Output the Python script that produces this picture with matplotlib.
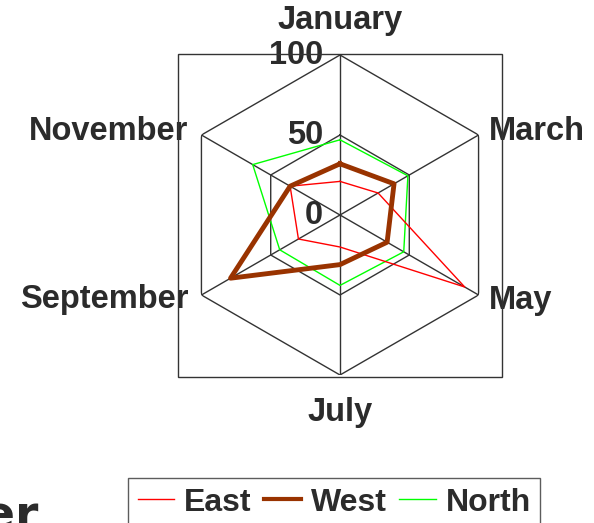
import numpy as np
import matplotlib
matplotlib.use("Agg")
import matplotlib.pyplot as plt
from matplotlib.patches import Rectangle

months = ["January", "March", "May", "July", "September", "November"]
east = [21, 27.5, 90, 20, 30, 36]
west = [32, 39, 34, 31, 79, 36]
north = [47, 49, 46, 44, 43.5, 63]
grid_levels = [0, 50, 100]
series_names = ["East", "West", "North"]

W, H = 594, 523
DPI = 100
plt.rcParams['font.family'] = ['Liberation Sans', 'DejaVu Sans']
fig = plt.figure(figsize=(W / DPI, H / DPI), dpi=DPI)
fig.patch.set_facecolor('white')

cx, cy, R = 340, 215, 160
ax = fig.add_axes([(cx - R) / W, (H - cy - R) / H, 2 * R / W, 2 * R / H], projection='polar')
ax.set_theta_zero_location('N')
ax.set_theta_direction(-1)
ax.set_ylim(0, 100)
ax.grid(False)
ax.set_xticks([])
ax.set_yticks([])
ax.spines['polar'].set_visible(False)
ax.patch.set_visible(False)

n = len(months)
theta = np.arange(n) * 2 * np.pi / n
theta_closed = np.append(theta, theta[0])

gc = '#333333'
for lvl in grid_levels[1:]:
    ax.plot(theta_closed, [lvl] * (n + 1), color=gc, lw=1, zorder=1)
for t in theta:
    ax.plot([t, t], [0, 100], color=gc, lw=1, zorder=1)

def closed(v):
    return list(v) + [v[0]]

ax.plot(theta_closed, closed(east), color='#ff0000', lw=1, label=series_names[0], zorder=3)
ax.plot(theta_closed, closed(west), color='#993300', lw=3.5, label=series_names[1], zorder=4)
ax.plot(theta_closed, closed(north), color='#00ff00', lw=1, label=series_names[2], zorder=2)

fs = 23.5
tc = '#2b2b2b'
for lvl in grid_levels:
    ax.annotate(str(lvl), xy=(0, lvl), xytext=(-17, 0), textcoords='offset pixels',
                ha='right', va='center', fontsize=fs, fontweight='bold', color=tc, zorder=5)

offsets = [(0, 34, 'center'), (10, 4, 'left'), (10, -5, 'left'),
           (0, -37, 'center'), (-13, -4, 'right'), (-13, 3, 'right')]
for t, m, (dx, dy, ha) in zip(theta, months, offsets):
    ax.annotate(m, xy=(t, 100), xytext=(dx, dy), textcoords='offset pixels',
                ha=ha, va='center', fontsize=fs, fontweight='bold', color=tc,
                annotation_clip=False)

fig.patches.append(Rectangle((178 / W, (H - 377) / H), 324 / W, 323 / H,
                             transform=fig.transFigure, fill=False, ec=gc, lw=1))

handles, labels = ax.get_legend_handles_labels()
leg = fig.legend(handles, labels, loc='upper left', bbox_to_anchor=(128 / W, 1 - 478 / H),
                 ncol=3, prop={'weight': 'bold', 'size': 23},
                 frameon=True, fancybox=False, edgecolor=gc, handlelength=1.15,
                 handletextpad=0.3, columnspacing=0.4, borderpad=0.3, borderaxespad=0)
leg.get_frame().set_linewidth(1)
for t in leg.get_texts():
    t.set_color(tc)
for lh in leg.get_lines():
    if lh.get_linewidth() > 2:
        lh.set_linewidth(3)

fig.text(38 / W, -6 / H, "er", ha='right', va='baseline', fontsize=34,
         family='DejaVu Sans', fontweight='bold', color=tc)

fig.savefig('out.png', dpi=DPI)
